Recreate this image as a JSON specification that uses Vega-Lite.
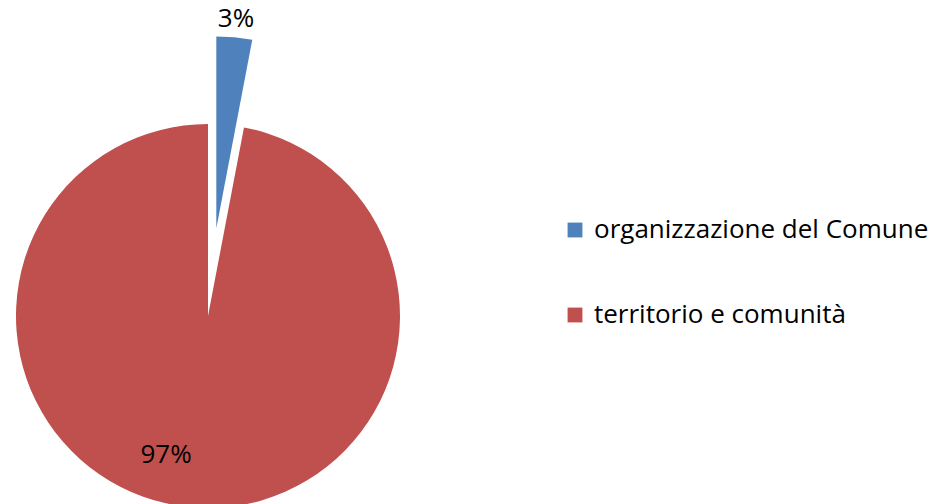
{
  "$schema": "https://vega.github.io/schema/vega-lite/v6.json",
  "autosize": {"type": "none"},
  "width": 384,
  "height": 376,
  "padding": {"left": 16, "top": 128, "right": 546, "bottom": 0},
  "background": "white",
  "config": {"view": {"stroke": null}, "font": "Open Sans"},
  "data": {"values": [
    {"categoria": "organizzazione del Comune", "valore": 3, "etichetta": "3%"},
    {"categoria": "territorio e comunità", "valore": 97, "etichetta": "97%"}
  ]},
  "encoding": {
    "theta": {"field": "valore", "type": "quantitative", "stack": true},
    "order": {"field": "categoria", "type": "nominal"}
  },
  "layer": [
    {
      "mark": {"type": "arc", "radius": 192},
      "encoding": {
        "color": {
          "field": "categoria", "type": "nominal",
          "scale": {"domain": ["organizzazione del Comune", "territorio e comunità"], "range": ["#4F81BD", "#C0504D"]},
          "legend": {
            "title": null, "orient": "none", "legendX": 546, "legendY": 89,
            "symbolType": "square", "symbolSize": 220, "symbolStrokeWidth": 0,
            "labelFontSize": 26, "labelFont": "Open Sans", "labelColor": "#000000",
            "labelLimit": 500, "rowPadding": 59, "labelOffset": 6
          }
        },
        "opacity": {"condition": {"test": "datum.categoria === 'organizzazione del Comune'", "value": 0}, "value": 1}
      }
    },
    {
      "mark": {"type": "arc", "radius": 192, "xOffset": 8.3, "yOffset": -87.6},
      "encoding": {
        "color": {"field": "categoria", "type": "nominal"},
        "opacity": {"condition": {"test": "datum.categoria === 'organizzazione del Comune'", "value": 1}, "value": 0}
      }
    },
    {
      "mark": {"type": "text", "radius": 298, "fontSize": 26, "color": "#000000"},
      "encoding": {
        "text": {"field": "etichetta"},
        "opacity": {"condition": {"test": "datum.categoria === 'organizzazione del Comune'", "value": 1}, "value": 0}
      }
    },
    {
      "mark": {"type": "text", "radius": 145, "thetaOffset": 0.199, "fontSize": 26, "color": "#000000"},
      "encoding": {
        "text": {"field": "etichetta"},
        "opacity": {"condition": {"test": "datum.categoria === 'organizzazione del Comune'", "value": 0}, "value": 1}
      }
    }
  ]
}
